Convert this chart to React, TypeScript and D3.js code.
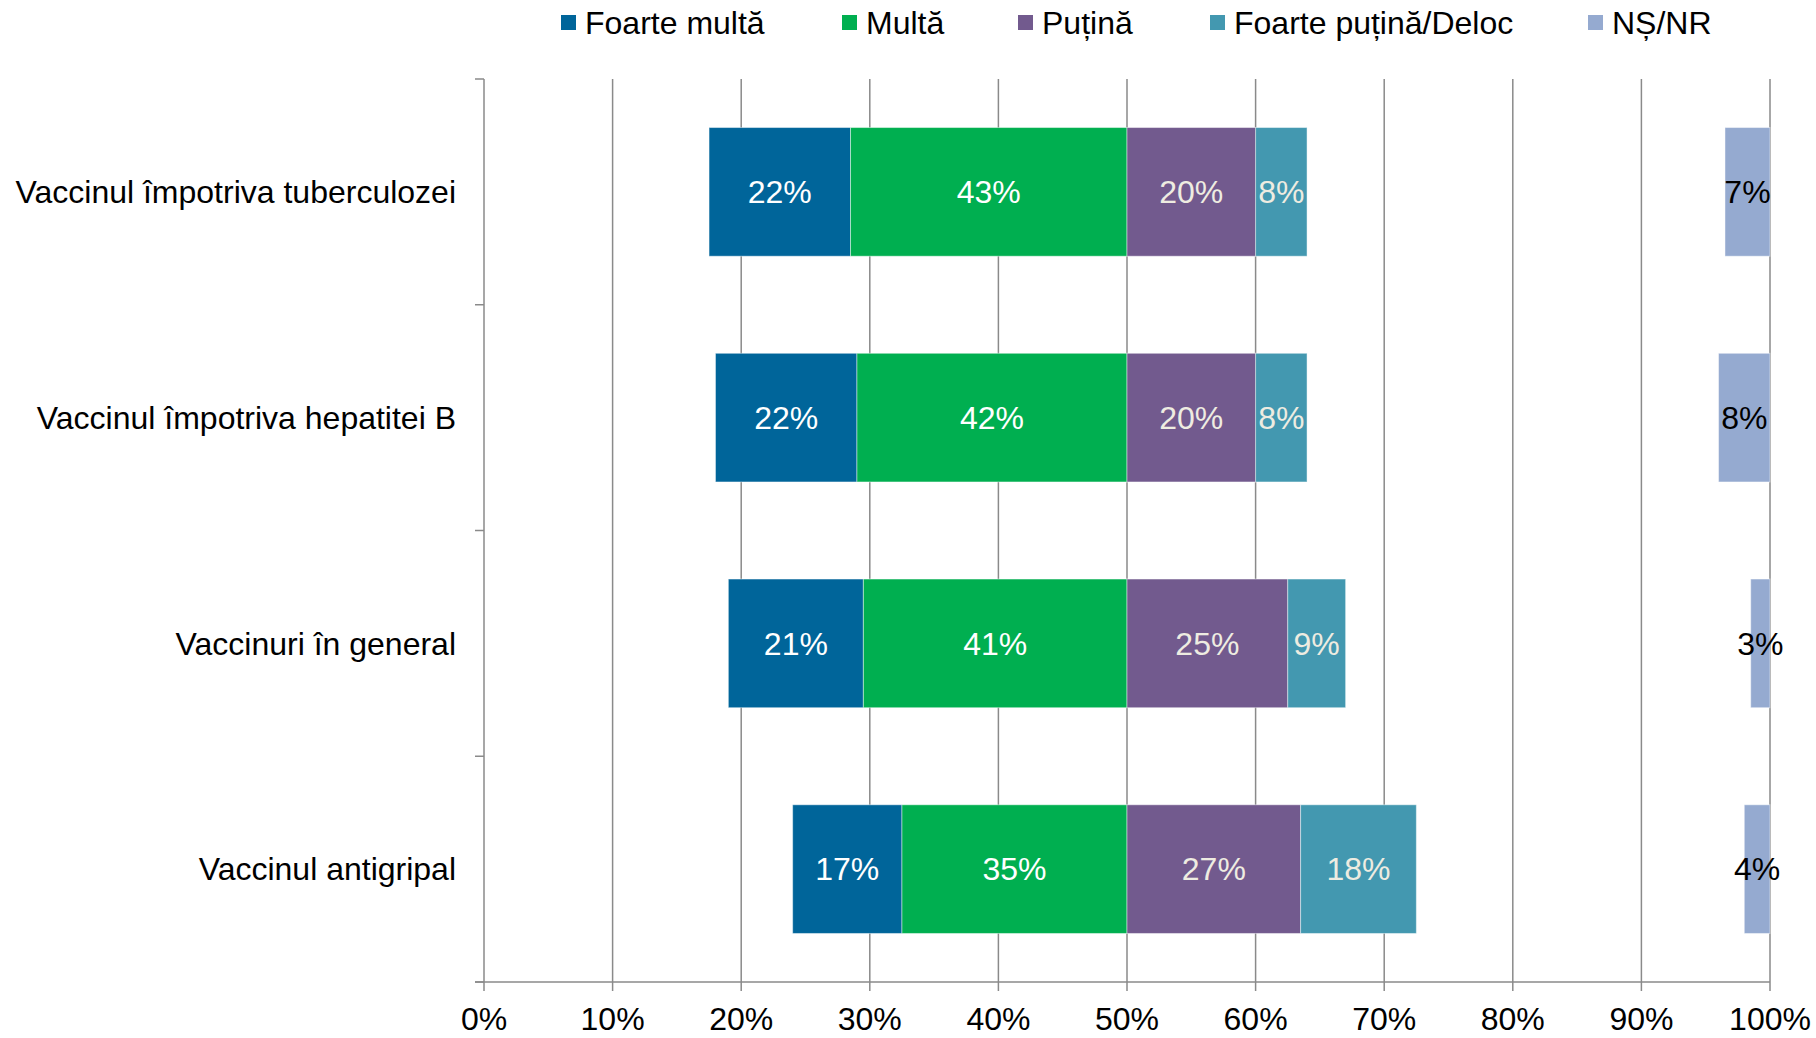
import React, { useEffect } from "react";
import * as d3 from "d3";

const categories = [
  "Vaccinul împotriva tuberculozei",
  "Vaccinul împotriva hepatitei B",
  "Vaccinuri în general",
  "Vaccinul antigripal",
];
const foarteMulta = [22, 22, 21, 17];
const multa = [43, 42, 41, 35];
const putina = [20, 20, 25, 27];
const foartePutina = [8, 8, 9, 18];
const nsnr = [7, 8, 3, 4];

const seriesNames = ["Foarte multă", "Multă", "Puțină", "Foarte puțină/Deloc", "NȘ/NR"];
const seriesColors = ["#00659A", "#00AF50", "#725A8E", "#4398B0", "#95AAD0"];
const labelColors = ["#FFFFFF", "#FFFFFF", "#EEECE1", "#EEECE1", "#000000"];
const axisTicks = [0, 10, 20, 30, 40, 50, 60, 70, 80, 90, 100];

const W = 1816;
const H = 1038;
const FONT = "'Liberation Sans', Arial, sans-serif";
const legendX = [561, 842, 1018, 1210, 1588];

export default function App() {
  useEffect(() => {
    document.body.style.margin = "0";
  }, []);

  const x = d3.scaleLinear().domain([0, 100]).range([484, 1770]);
  const y = d3
    .scaleBand<string>()
    .domain(categories)
    .range([79, 982])
    .paddingInner(0.43)
    .paddingOuter(0.215);
  const yTop = 79;
  const yBottom = 982;

  // bars displayed at half scale, diverging around 50%
  const rows = categories.map((c, i) => {
    const leftStart = 50 - (foarteMulta[i] + multa[i]) / 2;
    const segs = [
      { s: 0, x0: leftStart, x1: leftStart + foarteMulta[i] / 2, v: foarteMulta[i] },
      { s: 1, x0: leftStart + foarteMulta[i] / 2, x1: 50, v: multa[i] },
      { s: 2, x0: 50, x1: 50 + putina[i] / 2, v: putina[i] },
      { s: 3, x0: 50 + putina[i] / 2, x1: 50 + (putina[i] + foartePutina[i]) / 2, v: foartePutina[i] },
      { s: 4, x0: 100 - nsnr[i] / 2, x1: 100, v: nsnr[i] },
    ];
    return { c, segs };
  });

  const catBounds = d3.range(categories.length + 1).map((k) => yTop + ((yBottom - yTop) * k) / categories.length);

  return (
    <svg width={W} height={H} style={{ display: "block", background: "#fff" }} fontFamily={FONT}>
      <defs>
        <filter id="sh" x="-200%" y="-5%" width="500%" height="110%">
          <feGaussianBlur in="SourceAlpha" stdDeviation="2" />
          <feOffset dx="0" dy="0" result="b" />
          <feComponentTransfer>
            <feFuncA type="linear" slope="0.35" />
          </feComponentTransfer>
          <feMerge>
            <feMergeNode />
            <feMergeNode in="SourceGraphic" />
          </feMerge>
        </filter>
      </defs>

      {/* legend */}
      {seriesNames.map((n, i) => (
        <g key={n}>
          <rect x={legendX[i]} y={15} width={15} height={15} fill={seriesColors[i]} />
          <text x={legendX[i] + 24} y={23} dy="0.35em" fontSize={32} fill="#000">
            {n}
          </text>
        </g>
      ))}

      {/* gridlines */}
      {axisTicks.slice(1).map((t) => (
        <line key={t} x1={x(t)} x2={x(t)} y1={yTop} y2={yBottom} stroke="#8A8A8A" strokeWidth={1.5} />
      ))}

      {/* left axis */}
      <line x1={x(0)} x2={x(0)} y1={yTop} y2={yBottom} stroke="#8A8A8A" strokeWidth={1.5} />
      {catBounds.map((b, k) => (
        <line key={k} x1={x(0) - 9} x2={x(0)} y1={b} y2={b} stroke="#8A8A8A" strokeWidth={1.5} />
      ))}

      {/* bottom axis */}
      <line x1={x(0) - 9} x2={x(100)} y1={yBottom} y2={yBottom} stroke="#8A8A8A" strokeWidth={1.5} />
      {axisTicks.map((t) => (
        <g key={t}>
          <line x1={x(t)} x2={x(t)} y1={yBottom} y2={yBottom + 9} stroke="#8A8A8A" strokeWidth={1.5} />
          <text x={x(t)} y={1019} dy="0.35em" textAnchor="middle" fontSize={32} fill="#000">
            {t}%
          </text>
        </g>
      ))}

      {/* category labels */}
      {categories.map((c) => (
        <text
          key={c}
          x={456}
          y={(y(c) as number) + y.bandwidth() / 2}
          dy="0.35em"
          textAnchor="end"
          fontSize={32}
          fill="#000"
        >
          {c}
        </text>
      ))}

      {/* bars */}
      {rows.map((r) => (
        <g key={r.c}>
          {r.segs.map((s) => (
            <rect
              key={s.s}
              x={x(s.x0)}
              y={y(r.c)}
              width={x(s.x1) - x(s.x0)}
              height={y.bandwidth()}
              fill={seriesColors[s.s]}
              stroke="#ffffff"
              strokeOpacity={0.45}
              strokeWidth={1}
            />
          ))}
        </g>
      ))}

      {/* 50% reference line */}
      <line x1={x(50)} x2={x(50)} y1={64} y2={990} stroke="#FFC000" strokeWidth={5} filter="url(#sh)" />

      {/* data labels */}
      {rows.map((r) => (
        <g key={r.c + "l"}>
          {r.segs.map((s) => (
            <text
              key={s.s}
              x={(x(s.x0) + x(s.x1)) / 2}
              y={(y(r.c) as number) + y.bandwidth() / 2}
              dy="0.35em"
              textAnchor="middle"
              fontSize={32}
              fill={labelColors[s.s]}
            >
              {s.v}%
            </text>
          ))}
        </g>
      ))}
    </svg>
  );
}
